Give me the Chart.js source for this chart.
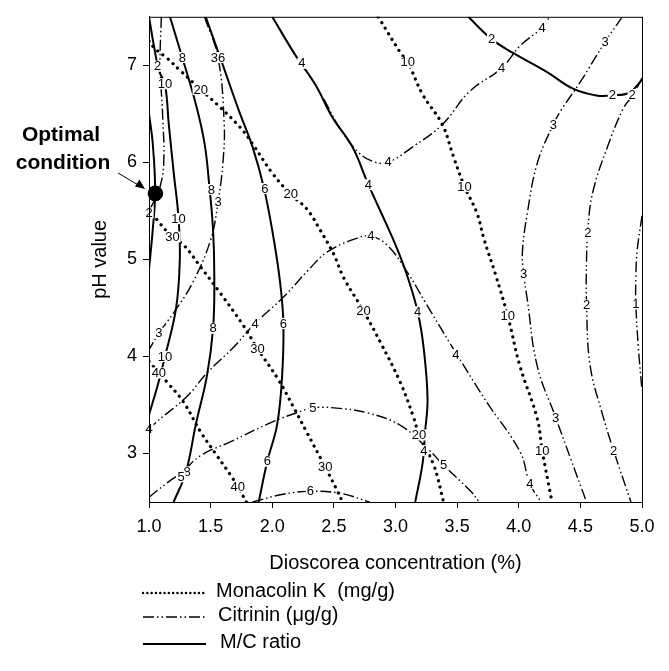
<!DOCTYPE html>
<html>
<head>
<meta charset="utf-8">
<style>
  html, body { margin: 0; padding: 0; background: #fff; }
  #wrap { width: 669px; height: 671px; position: relative; }
</style>
<script src="https://cdn.jsdelivr.net/npm/chart.js@4.4.1/dist/chart.umd.min.js"></script>
</head>
<body>
<div id="wrap"><canvas id="chart-contour"></canvas></div>
<script>
const FONT = '"Liberation Sans", Arial, sans-serif';

// axis ticks
const xTicks = [1.0, 1.5, 2.0, 2.5, 3.0, 3.5, 4.0, 4.5, 5.0];
const yTicks = [3, 4, 5, 6, 7];

// Monacolin K contours (mg/g), [concentration, pH]
const mk10 = [[2.86,7.5],[3.04,7.13],[3.10,7.03],[3.22,6.7],[3.38,6.39],[3.47,6.06],[3.56,5.75],[3.66,5.48],[3.72,5.2],[3.81,4.85],[3.91,4.42],[4.01,3.9],[4.15,3.36],[4.19,3.03],[4.27,2.5]];
const mk20 = [[1.0,7.25],[1.05,7.17],[1.15,7.07],[1.25,6.95],[1.42,6.75],[1.55,6.6],[1.74,6.36],[1.84,6.19],[2.0,5.89],[2.15,5.67],[2.28,5.52],[2.39,5.3],[2.5,5.05],[2.58,4.81],[2.74,4.47],[2.88,4.14],[3.04,3.73],[3.15,3.36],[3.19,3.19],[3.31,2.88],[3.39,2.5]];
const mk30 = [[1.0,5.52],[1.07,5.40],[1.19,5.23],[1.28,5.15],[1.42,4.92],[1.58,4.65],[1.77,4.31],[1.88,4.08],[2.05,3.76],[2.18,3.46],[2.28,3.22],[2.43,2.86],[2.53,2.61],[2.57,2.5]];
const mk40 = [[1.0,3.95],[1.08,3.83],[1.15,3.73],[1.28,3.53],[1.42,3.22],[1.55,2.98],[1.66,2.78],[1.72,2.66],[1.79,2.5]];

// Citrinin contours (ug/g)
const cit1 = [[5.0,5.45],[4.96,5.08],[4.95,4.8],[4.95,4.54],[4.97,4.1],[5.0,3.65]];
const cit2Right = [[5.0,6.87],[4.93,6.7],[4.85,6.56],[4.72,6.16],[4.6,5.69],[4.56,5.3],[4.55,5.0],[4.55,4.53],[4.58,3.9],[4.68,3.4],[4.77,3.03],[4.91,2.5]];
const cit2Left = [[1.1,7.5],[1.09,7.0],[1.11,6.5],[1.12,6.0],[1.09,5.75],[1.04,5.6],[1.0,5.5]];
const cit3Right = [[4.84,7.5],[4.70,7.24],[4.5,6.83],[4.35,6.55],[4.28,6.39],[4.15,5.99],[4.07,5.48],[4.03,5.08],[4.04,4.85],[4.07,4.58],[4.15,3.9],[4.30,3.37],[4.42,2.95],[4.55,2.5]];
const cit3Left = [[1.45,7.5],[1.56,7.08],[1.61,6.4],[1.6,6.0],[1.56,5.59],[1.5,5.2],[1.35,4.75],[1.2,4.45],[1.08,4.24],[1.0,4.07]];
const cit4Top = [[2.42,6.65],[2.55,6.35],[2.71,6.09],[2.84,6.0],[2.94,6.0],[3.14,6.16],[3.38,6.39],[3.6,6.73],[3.86,6.97],[4.01,7.2],[4.19,7.39],[4.25,7.5]];
const cit4Mid = [[1.0,3.23],[1.03,3.29],[1.31,3.59],[1.47,3.83],[1.69,4.1],[1.86,4.34],[2.09,4.61],[2.3,4.9],[2.45,5.08],[2.69,5.22],[2.80,5.24],[2.93,5.15],[3.09,4.88],[3.25,4.54],[3.45,4.12],[3.74,3.53],[4.01,3.02],[4.09,2.69],[4.18,2.5]];
const cit5 = [[1.0,2.55],[1.15,2.7],[1.27,2.81],[1.42,2.98],[1.66,3.12],[2.01,3.33],[2.2,3.42],[2.33,3.47],[2.5,3.47],[2.77,3.42],[3.04,3.29],[3.26,3.05],[3.39,2.88],[3.61,2.61],[3.68,2.5]];
const cit6 = [[1.84,2.5],[2.09,2.58],[2.31,2.61],[2.55,2.59],[2.79,2.5]];

// M/C ratio contours
const mc2Right = [[3.59,7.5],[3.78,7.27],[3.95,7.13],[4.23,6.93],[4.44,6.76],[4.63,6.69],[4.76,6.69],[4.9,6.72],[5.0,6.85]];
const mc2Left = [[1.0,6.5],[1.03,6.2],[1.05,5.7],[1.03,5.3],[1.0,4.9]];
const mc4 = [[2.0,7.5],[2.19,7.1],[2.35,6.8],[2.49,6.46],[2.65,6.16],[2.78,5.77],[2.92,5.38],[3.0,5.15],[3.09,4.85],[3.18,4.46],[3.23,4.07],[3.26,3.56],[3.24,3.22],[3.22,2.9],[3.16,2.5]];
const mc6 = [[1.46,7.5],[1.6,7.0],[1.73,6.53],[1.84,6.16],[1.93,5.75],[2.0,5.3],[2.06,4.8],[2.09,4.35],[2.08,3.8],[2.04,3.3],[1.96,2.92],[1.89,2.5]];
const mc8 = [[1.17,7.5],[1.27,7.08],[1.38,6.6],[1.45,6.2],[1.49,5.75],[1.52,5.3],[1.53,4.8],[1.52,4.29],[1.47,3.8],[1.38,3.3],[1.30,2.81],[1.2,2.5]];
const mc10 = [[1.0,7.5],[1.04,7.2],[1.08,6.95],[1.13,6.8],[1.16,6.4],[1.2,5.9],[1.24,5.42],[1.25,5.0],[1.22,4.5],[1.13,4.0],[1.07,3.7],[1.0,3.4]];

// contour labels [text, concentration, pH]
const contourLabels = [
  ['2',1.07,6.99],['10',1.13,6.81],['8',1.27,7.08],['36',1.56,7.08],['20',1.42,6.75],['4',2.24,7.02],
  ['10',3.10,7.03],['2',3.78,7.27],['4',4.19,7.39],['4',3.86,6.97],['3',4.70,7.24],['2',4.76,6.69],['2',4.92,6.70],
  ['4',2.94,6.0],['3',4.28,6.39],['8',1.505,5.72],['3',1.56,5.59],['6',1.94,5.73],['20',2.15,5.67],['4',2.78,5.77],
  ['10',3.56,5.75],['2',1.0,5.48],['10',1.24,5.42],['30',1.19,5.23],['4',2.80,5.24],['3',4.04,4.85],['2',4.56,5.27],
  ['2',4.55,4.53],['1',4.95,4.54],['10',3.91,4.42],['4',3.18,4.46],['20',2.74,4.47],['6',2.09,4.34],['4',1.86,4.34],
  ['8',1.52,4.29],['3',1.08,4.24],['10',1.13,4.0],['30',1.88,4.08],['40',1.08,3.83],['4',3.49,4.02],['4',1.0,3.25],
  ['5',2.33,3.47],['3',4.30,3.37],['20',3.19,3.19],['4',3.23,3.03],['5',3.39,2.88],['10',4.19,3.03],['2',4.77,3.03],
  ['6',1.96,2.92],['30',2.43,2.86],['8',1.31,2.81],['5',1.26,2.76],['40',1.72,2.66],['6',2.31,2.61],['4',4.09,2.69]
];

// optimal condition
const optimal = [1.05, 5.68];

const toPts = arr => arr.map(p => ({ x: p[0], y: p[1] }));

const dotted = { borderColor: '#000', borderWidth: 3.2, borderDash: [0.1, 6.5], borderCapStyle: 'round' };
const dashDot = { borderColor: '#000', borderWidth: 1.4, borderDash: [11, 3, 1.5, 3, 1.5, 3], borderCapStyle: 'butt' };
const solid = { borderColor: '#000', borderWidth: 2, borderDash: [] };

const mkLines = [mk10, mk20, mk30, mk40];
const citLines = [cit1, cit2Right, cit2Left, cit3Right, cit3Left, cit4Top, cit4Mid, cit5, cit6];
const mcLines = [mc2Right, mc2Left, mc4, mc6, mc8, mc10];

const datasets = [];
datasets.push({
  data: [{ x: optimal[0], y: optimal[1] }],
  showLine: false, pointRadius: 7.5, pointBackgroundColor: '#000', pointBorderColor: '#000', order: -1
});
mkLines.forEach(l => datasets.push(Object.assign({ data: toPts(l), showLine: true, pointRadius: 0, tension: 0.4, fill: false }, dotted)));
citLines.forEach(l => datasets.push(Object.assign({ data: toPts(l), showLine: true, pointRadius: 0, tension: 0.4, fill: false }, dashDot)));
mcLines.forEach(l => datasets.push(Object.assign({ data: toPts(l), showLine: true, pointRadius: 0, tension: 0.4, fill: false }, solid)));

const decorations = {
  id: 'decorations',
  afterDatasetsDraw(chart) {
    const ctx = chart.ctx, xs = chart.scales.x, ys = chart.scales.y;
    ctx.save();
    ctx.font = '13px ' + FONT;
    ctx.textAlign = 'center';
    ctx.textBaseline = 'middle';
    contourLabels.forEach(l => {
      const px = xs.getPixelForValue(l[1]), py = ys.getPixelForValue(l[2]);
      const w = ctx.measureText(l[0]).width;
      ctx.fillStyle = '#fff';
      ctx.fillRect(px - w / 2 - 1, py - 5.5, w + 2, 11);
      ctx.fillStyle = '#000';
      ctx.fillText(l[0], px, py + 0.5);
    });
    // optimal dot on top
    ctx.beginPath();
    ctx.arc(xs.getPixelForValue(optimal[0]), ys.getPixelForValue(optimal[1]), 7.5, 0, Math.PI * 2);
    ctx.fillStyle = '#000';
    ctx.fill();
    ctx.restore();
  },
  afterDraw(chart) {
    const ctx = chart.ctx, a = chart.chartArea;
    ctx.save();
    ctx.strokeStyle = '#000';
    ctx.lineWidth = 1;
    ctx.strokeRect(a.left + 0.5, a.top + 0.5, a.right - a.left, a.bottom - a.top);

    ctx.fillStyle = '#000';
    ctx.textAlign = 'center';
    ctx.textBaseline = 'middle';
    ctx.font = '20px ' + FONT;
    ctx.fillText('Dioscorea concentration (%)', (a.left + a.right) / 2, 563);
    ctx.save();
    ctx.translate(100, (a.top + a.bottom) / 2);
    ctx.rotate(-Math.PI / 2);
    ctx.fillText('pH value', 0, 0);
    ctx.restore();

    ctx.font = 'bold 21px ' + FONT;
    ctx.fillText('Optimal', 61, 135);
    ctx.fillText('condition', 63, 163);
    // arrow
    ctx.beginPath();
    ctx.moveTo(118, 173); ctx.lineTo(140, 186);
    ctx.lineWidth = 1; ctx.stroke();
    ctx.beginPath();
    ctx.moveTo(145, 189); ctx.lineTo(135, 186.5); ctx.lineTo(139.5, 179.5); ctx.closePath();
    ctx.fill();

    // legend
    ctx.textAlign = 'left';
    ctx.font = '20px ' + FONT;
    const lg = [['Monacolin K  (mg/g)', dotted, 591, 216], ['Citrinin (\u03bcg/g)', dashDot, 615, 218], ['M/C ratio', solid, 642, 220]];
    lg.forEach(r => {
      ctx.beginPath();
      ctx.lineWidth = r[1] === dotted ? 2.4 : r[1].borderWidth;
      ctx.setLineDash(r[1] === dotted ? [0.1, 4.2] : r[1].borderDash);
      ctx.lineCap = r[1] === dotted ? 'round' : 'butt';
      ctx.moveTo(143, r[2] + 2); ctx.lineTo(206, r[2] + 2);
      ctx.stroke();
      ctx.setLineDash([]);
      ctx.fillText(r[0], r[3], r[2]);
    });
    ctx.restore();
  }
};

new Chart(document.getElementById('chart-contour'), {
  type: 'scatter',
  data: { datasets: datasets },
  options: {
    responsive: true,
    maintainAspectRatio: false,
    animation: false,
    devicePixelRatio: 1,
    layout: { padding: { left: 0, right: 27, top: 8, bottom: 0 } },
    plugins: { legend: { display: false }, tooltip: { enabled: false } },
    scales: {
      x: {
        type: 'linear', min: 1, max: 5,
        afterBuildTicks: s => { s.ticks = xTicks.map(v => ({ value: v })); },
        afterFit: s => { s.height = 169; },
        ticks: { callback: v => Number(v).toFixed(1), color: '#000', font: { size: 18, family: FONT }, padding: 8, maxRotation: 0, autoSkip: false },
        grid: { drawOnChartArea: false, tickLength: 6, color: '#000', tickColor: '#000' },
        border: { color: '#000', width: 1 }
      },
      y: {
        type: 'linear', min: 2.5, max: 7.5,
        afterBuildTicks: s => { s.ticks = yTicks.map(v => ({ value: v })); },
        afterFit: s => { s.width = 149; },
        ticks: { callback: v => v, color: '#000', font: { size: 18, family: FONT }, padding: 6, autoSkip: false },
        grid: { drawOnChartArea: false, tickLength: 6, color: '#000', tickColor: '#000' },
        border: { color: '#000', width: 1 }
      }
    }
  },
  plugins: [decorations]
});
</script>
</body>
</html>
